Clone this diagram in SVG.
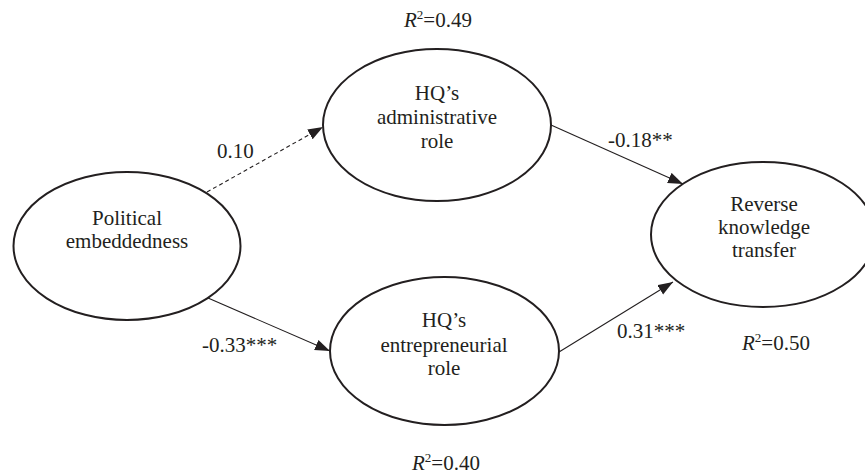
<svg xmlns="http://www.w3.org/2000/svg" width="865" height="476" viewBox="0 0 865 476">
<defs>
<style>
.node{fill:#fff;stroke:#231f20;stroke-width:2}
.t{font-family:"Liberation Serif","Times New Roman",serif;font-size:21px;fill:#231f20;text-anchor:middle}
.lab{font-family:"Liberation Serif","Times New Roman",serif;font-size:21px;fill:#231f20}
.edge{stroke:#231f20;stroke-width:1.1;fill:none;marker-end:url(#ah)}
.dash{stroke-dasharray:4 3}
</style>
<marker id="ah" markerUnits="userSpaceOnUse" markerWidth="16" markerHeight="12" refX="15" refY="5.5" orient="auto">
<path d="M0,0 L15,5.5 L0,11 z" fill="#231f20"/>
</marker>
</defs>
<rect width="865" height="476" fill="#fff"/>
<g id="connectors">
<line class="edge dash" x1="207" y1="192" x2="323" y2="127"/>
<line class="edge" x1="208" y1="298" x2="330" y2="351"/>
<line class="edge" x1="551" y1="125" x2="683" y2="184"/>
<line class="edge" x1="559" y1="352" x2="673" y2="282"/>
</g>
<g id="political">
<ellipse class="node" cx="127" cy="246" rx="113.5" ry="74"/>
<text class="t" x="127" y="225">Political</text>
<text class="t" x="127" y="248">embeddedness</text>
</g>
<g id="admin">
<ellipse class="node" cx="437" cy="125" rx="114" ry="76"/>
<text class="t" x="437" y="100">HQ’s</text>
<text class="t" x="437" y="124">administrative</text>
<text class="t" x="437" y="148">role</text>
</g>
<g id="entre">
<ellipse class="node" cx="444.5" cy="351" rx="114.5" ry="74"/>
<text class="t" x="444" y="327">HQ’s</text>
<text class="t" x="444" y="352">entrepreneurial</text>
<text class="t" x="444" y="375">role</text>
</g>
<g id="rkt">
<ellipse class="node" cx="763" cy="234.5" rx="112" ry="72.5"/>
<text class="t" x="764" y="211">Reverse</text>
<text class="t" x="764" y="234">knowledge</text>
<text class="t" x="764" y="257">transfer</text>
</g>
<g id="labels">
<text class="lab" x="217" y="158">0.10</text>
<text class="lab" x="202" y="352">-0.33***</text>
<text class="lab" x="608" y="147">-0.18**</text>
<text class="lab" x="617" y="338">0.31***</text>
<text class="lab" x="404" y="27"><tspan font-style="italic">R</tspan><tspan font-size="13" dy="-8">2</tspan><tspan dy="8">=0.49</tspan></text>
<text class="lab" x="412" y="470"><tspan font-style="italic">R</tspan><tspan font-size="13" dy="-8">2</tspan><tspan dy="8">=0.40</tspan></text>
<text class="lab" x="742" y="350"><tspan font-style="italic">R</tspan><tspan font-size="13" dy="-8">2</tspan><tspan dy="8">=0.50</tspan></text>
</g>
</svg>
